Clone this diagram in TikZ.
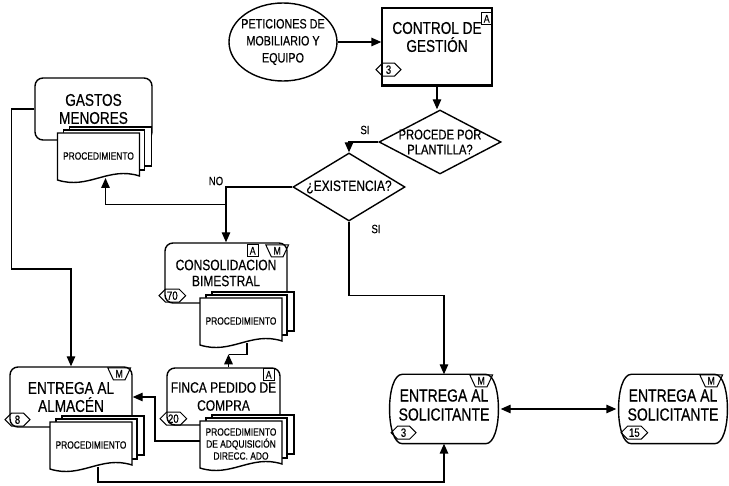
\documentclass[tikz,border=0pt]{standalone}
\usepackage{fontspec}
\setmainfont[FakeStretch=0.8,FakeBold=0.5]{Liberation Sans}
\usetikzlibrary{arrows.meta,positioning,shapes.geometric,shapes.symbols}

\begin{document}
\begin{tikzpicture}[
  x=1pt, y=-1pt, line width=1.4pt,
  font=\fontsize{17}{18}\selectfont, >={Triangle[length=10pt,width=8.5pt]},
  actbox/.style={draw, rounded corners=8pt, align=center, inner sep=2pt},
  decision/.style={draw, diamond, inner sep=0pt},
  tagA/.style={draw, line width=1pt, inner sep=1pt, minimum width=11pt,
               minimum height=12pt, font=\fontsize{11}{11}\selectfont},
  tagM/.style={draw, trapezium, trapezium angle=65, shape border rotate=180,
               line width=1pt, inner sep=0.8pt, minimum height=12pt,
               font=\fontsize{11}{11}\selectfont},
  tagnum/.style={draw, signal, signal to=west and east, line width=1pt,
                 inner sep=1.5pt, minimum width=25pt, minimum height=13pt,
                 font=\fontsize{12}{12}\selectfont},
  lbl/.style={font=\fontsize{12}{12}\selectfont},
  doctext/.style={align=center, inner sep=0pt, font=\fontsize{10.5}{12}\selectfont},
  soltxt/.style={align=center, font=\fontsize{17.5}{19}\selectfont},
  a/.style={->},
  procdoc/.pic={
    \draw[fill=white, line width=1.1pt] (-29,-31) rectangle (53,8);
    \draw[fill=white, line width=1.1pt] (-35,-28) rectangle (46,12);
    \draw[fill=white] (-41,-25) -- (41,-25) -- (41,18)
      .. controls (10,8) and (-10,32) .. (-41,22) -- cycle;
    \node[doctext] at (0,-2) {\tikzpictext};
    \coordinate (-b) at (0,20);
    \coordinate (-w) at (-41,-5);
  },
]
\useasboundingbox (0,0) rectangle (729,486);

% Parte superior: peticion + control
\node[draw, ellipse, minimum width=108pt, minimum height=78pt] (pet) at (283,42) {};
\node[align=center, font=\fontsize{13.5}{17}\selectfont] (pettxt) at (pet.center)
  {PETICIONES DE\\MOBILIARIO Y\\EQUIPO};
\node[draw, minimum width=110pt, minimum height=77pt] (ctrl) at (437,46.5) {};
\draw[line width=2.8pt] (ctrl.south west) -- (ctrl.south east);
\node[align=center] (ctrltxt) at (437,37) {CONTROL DE\\GESTIÓN};
\node[tagA, anchor=north east] (ctrlA) at ([yshift=-5pt]ctrl.north east) {A};
\node[tagnum, anchor=south west] (ctrlN) at ([xshift=1pt,yshift=9pt]ctrl.south west) {3};

% Decisiones
\node[decision, minimum width=122pt, minimum height=64pt] (plan) at (440,142) {};
\node[align=center, font=\fontsize{14}{15}\selectfont] (plantxt) at (plan.center)
  {PROCEDE POR\\PLANTILLA?};
\node[decision, minimum width=112pt, minimum height=68pt] (exist) at (349,187) {};
\node[font=\fontsize{15}{15}\selectfont] (existtxt) at (exist.center) {¿EXISTENCIA?};

% Actividades
\node[actbox, minimum width=117pt, minimum height=62pt] (gas) at (93.5,109) {GASTOS\\MENORES};
\pic[pic text=PROCEDIMIENTO] (gasdoc) at (98.5,158) {procdoc};

\node[actbox, minimum width=122pt, minimum height=60pt, font=\fontsize{15}{16}\selectfont]
  (con) at (226,273) {CONSOLIDACION\\BIMESTRAL};
\node[tagM, anchor=north east] (conM) at ([xshift=-4pt,yshift=-2pt]con.north east) {M};
\node[tagA, anchor=north east] (conA) at ([xshift=-12pt]conM.north west) {A};
\node[tagnum, anchor=south west] (conN) at ([xshift=1pt,yshift=1pt]con.south west) {70};
\pic[pic text=PROCEDIMIENTO] (condoc) at (241,323) {procdoc};

\node[actbox, minimum width=113pt, minimum height=57pt, font=\fontsize{15}{18}\selectfont]
  (fin) at (223.5,396.5) {FINCA PEDIDO DE\\COMPRA};
\node[tagA, anchor=north east] (finA) at ([xshift=-6pt,yshift=-1pt]fin.north east) {A};
\node[tagnum, anchor=south west] (finN) at ([xshift=0pt,yshift=0pt]fin.south west) {20};
\pic[pic text={PROCEDIMIENTO\\DE ADQUISICIÓN\\DIRECC. ADO}] (findoc) at (241,446) {procdoc};

\node[actbox, minimum width=122pt, minimum height=60pt] (alm) at (71,397)
  {ENTREGA AL\\ALMACÉN};
\node[tagM, anchor=north east] (almM) at ([xshift=-7pt,yshift=-1pt]alm.north east) {M};
\node[tagnum, anchor=south west] (almN) at ([xshift=2pt,yshift=1pt]alm.south west) {8};
\pic[pic text=PROCEDIMIENTO] (almdoc) at (91,447) {procdoc};

% Entregas al solicitante
\node[minimum width=106pt, minimum height=68pt] (sol3) at (444,409) {};
\node[minimum width=106pt, minimum height=68pt] (sol15) at (673,409) {};
\foreach \s in {sol3,sol15}
  \draw ([xshift=12pt]\s.north west) -- ([xshift=-12pt]\s.north east)
    .. controls ([xshift=5pt]\s.north east) and ([xshift=5pt]\s.south east) .. ([xshift=-12pt]\s.south east)
    -- ([xshift=12pt]\s.south west)
    .. controls ([xshift=-5pt]\s.south west) and ([xshift=-5pt]\s.north west) .. cycle;
\node[soltxt] (sol3txt) at (444,405) {ENTREGA AL\\SOLICITANTE};
\node[soltxt] (sol15txt) at (673,405) {ENTREGA AL\\SOLICITANTE};
\node[tagM, anchor=north east] (sol3M) at ([xshift=-10pt]sol3.north east) {M};
\node[tagnum, anchor=south west] (sol3N) at ([xshift=7pt,yshift=4pt]sol3.south west) {3};
\node[tagM, anchor=north east] (sol15M) at ([xshift=-9pt]sol15.north east) {M};
\node[tagnum, anchor=south west] (sol15N) at ([xshift=8pt,yshift=4pt]sol15.south west) {15};

% Conectores
\draw[a] (pet.east) -- (pet.east -| ctrl.west);
\draw[a] (ctrl.south) -- (ctrl.south |- plan.north);
\draw[a] (plan.west) -| (exist.north);
\node[lbl] (si1) at (365,130) {SI};
\draw[a] (exist.west) -| (con.north);
\node[lbl] (no) at (216,181) {NO};
\path (con.north) ++(0,-38) coordinate (nobr);
\draw[a] (nobr) -| ([xshift=7pt]gasdoc-b);
\draw[a] (exist.south) -- ++(0,74) -| (sol3.north);
\node[lbl] (si2) at (376,229) {SI};
\draw[a] (gas.west) -| ++(-23,160) -| (alm.north);
\path (fin.north) ++(5,-13) coordinate (finup);
\draw ([xshift=6pt]condoc-b) |- (finup);
\draw[a] ([xshift=5pt]fin.north) -- (finup);
\draw[a] (findoc-w) -- ++(-45,0) |- (alm.east);
\draw[a] ([xshift=7pt]almdoc-b) -- ++(0,15) -| (sol3.south);
\draw[<->] ([xshift=3pt]sol3.east) -- ([xshift=-3pt]sol15.west);
\end{tikzpicture}
\end{document}
